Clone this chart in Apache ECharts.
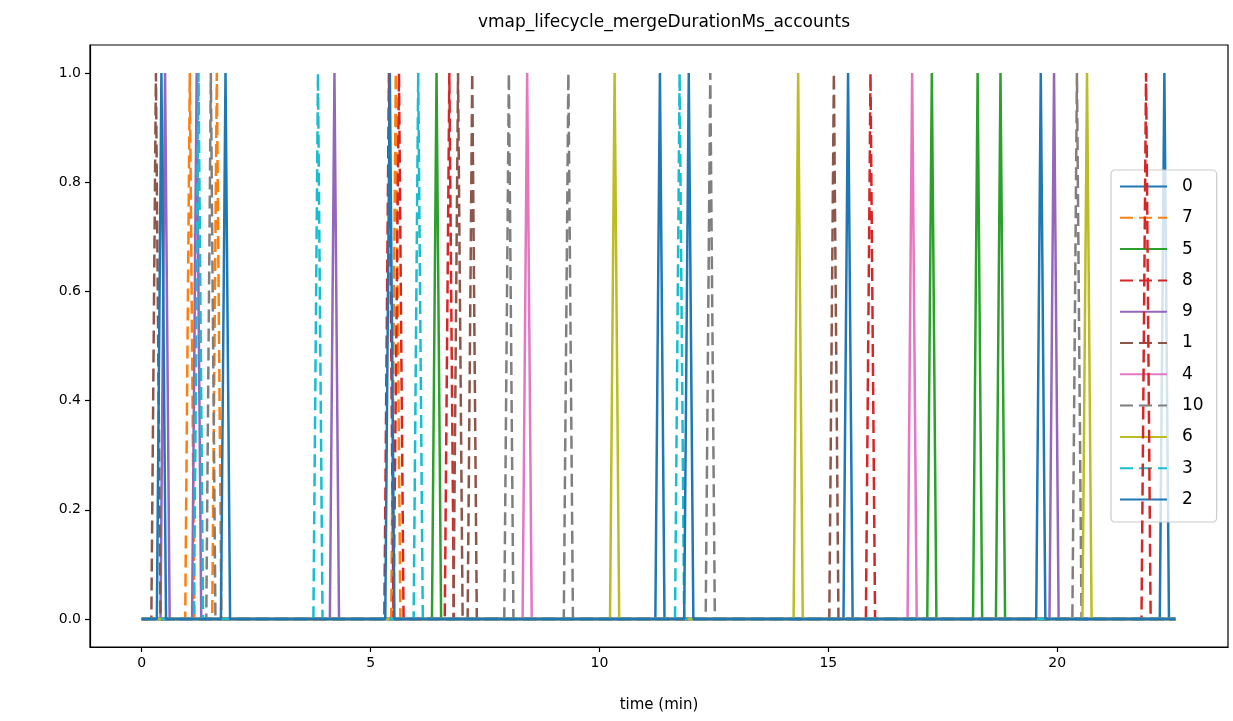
<!DOCTYPE html>
<html>
<head>
<meta charset="utf-8">
<script src="https://cdn.jsdelivr.net/npm/echarts@6/dist/echarts.min.js"></script>
<style>html,body{margin:0;padding:0;background:#fff}#c{width:1233px;height:721px}</style>
</head>
<body>
<div id="c"></div>
<script>
// Series names in legend order
const seriesNames = ['0', '7', '5', '8', '9', '1', '4', '10', '6', '3', '2'];
// Spike times (minutes) where each series reaches 1.0
const spikes_0 = [11.32, 15.43, 22.34];
const spikes_7 = [1.05, 1.64, 5.55];
const spikes_5 = [6.44, 17.26, 18.26, 18.76];
const spikes_8 = [5.40, 5.62, 6.72, 15.92, 21.94];
const spikes_9 = [0.51, 1.20, 4.21, 19.93];
const spikes_1 = [0.31, 6.91, 7.22, 15.12];
const spikes_4 = [8.42, 16.83];
const spikes_10 = [1.51, 8.02, 9.32, 12.42, 20.43];
const spikes_6 = [10.33, 14.34, 20.65];
const spikes_3 = [1.24, 3.85, 6.04, 11.75];
const spikes_2 = [0.43, 1.83, 5.42, 11.95, 19.64];
const spikeValue = 1.0;
const baseValue = 0.0;
const startTime = 0;
const endTime = 22.58;
const halfWidth = 0.1;
const xTicks = [0, 5, 10, 15, 20];
const yTicks = [0, 0.2, 0.4, 0.6, 0.8, 1.0];

const allSpikes = [spikes_0, spikes_7, spikes_5, spikes_8, spikes_9, spikes_1, spikes_4, spikes_10, spikes_6, spikes_3, spikes_2];
const colors = ['#1f77b4','#ff7f0e','#2ca02c','#d62728','#9467bd','#8c564b','#e377c2','#7f7f7f','#bcbd22','#17becf','#1f77b4'];

function build(sp) {
  const pts = [[startTime, baseValue]];
  sp.forEach(t => {
    pts.push([t - halfWidth, baseValue]);
    pts.push([t, spikeValue]);
    pts.push([t + halfWidth, baseValue]);
  });
  pts.push([endTime, baseValue]);
  return pts;
}

const series = seriesNames.map((n, i) => ({
  name: n,
  type: 'line',
  data: build(allSpikes[i]),
  symbol: 'none',
  showSymbol: false,
  animation: false,
  color: colors[i],
  lineStyle: {
    color: colors[i],
    width: 2.5,
    type: (i % 2 === 1) ? [13, 6] : 'solid',
    cap: 'butt'
  },
  z: 2 + i
}));

const font = 'DejaVu Sans';
const chart = echarts.init(document.getElementById('c'), null, {renderer: 'canvas'});
chart.setOption({
  animation: false,
  backgroundColor: '#fff',
  title: {
    text: 'vmap_lifecycle_mergeDurationMs_accounts',
    left: 659, top: 9, textAlign: 'center',
    textStyle: {fontFamily: font, fontSize: 17, fontWeight: 'normal', color: '#000'}
  },
  grid: {left: 90, right: 5, top: 45, bottom: 74, show: true, borderColor: '#000', borderWidth: 1.2, backgroundColor: 'transparent'},
  xAxis: {
    type: 'value', min: -1.13, max: 23.73,
    name: 'time (min)', nameLocation: 'middle', nameGap: 51,
    nameTextStyle: {fontFamily: font, fontSize: 15, color: '#000'},
    axisLine: {show: true, onZero: false, lineStyle: {color: '#000', width: 1.2}},
    axisTick: {show: true, length: 5, lineStyle: {color: '#000', width: 1.2}, customValues: xTicks},
    axisLabel: {fontFamily: font, fontSize: 14, color: '#000', margin: 9, customValues: xTicks, formatter: v => String(v)},
    splitLine: {show: false}
  },
  yAxis: {
    type: 'value', min: -0.0514, max: 1.0514,
    axisLine: {show: true, onZero: false, lineStyle: {color: '#000', width: 1.2}},
    axisTick: {show: true, length: 5, lineStyle: {color: '#000', width: 1.2}, customValues: yTicks},
    axisLabel: {fontFamily: font, fontSize: 14, color: '#000', margin: 9, customValues: yTicks, formatter: v => v.toFixed(1)},
    splitLine: {show: false}
  },
  legend: {
    orient: 'vertical',
    left: 1111, top: 170,
    padding: [8, 13, 14, 8],
    itemWidth: 47, itemHeight: 14,
    itemGap: 14.3,
    itemStyle: {opacity: 0},
    backgroundColor: 'rgba(255,255,255,0.8)',
    borderColor: '#cccccc', borderWidth: 1.2, borderRadius: 4,
    textStyle: {fontFamily: font, fontSize: 17, color: '#000', padding: [0, 0, 0, 10]},
    data: seriesNames
  },
  series: series
});
</script>
</body>
</html>
